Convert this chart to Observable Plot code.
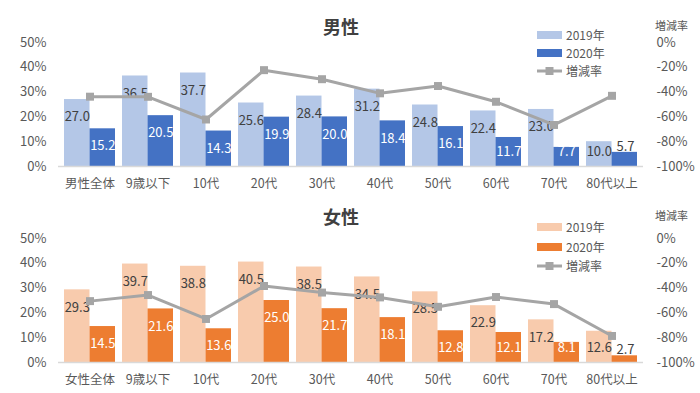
<!DOCTYPE html>
<html><head><meta charset="utf-8">
<script src="https://cdn.jsdelivr.net/npm/d3@7"></script>
<script src="https://cdn.jsdelivr.net/npm/@observablehq/plot@0.6"></script>
<style>
body{margin:0;background:#fff;font-family:"Noto Sans CJK JP","Noto Sans",sans-serif;}
#wrap{position:relative;width:700px;height:393px;overflow:hidden;background:#fff;}
.panel{position:absolute;left:0;width:700px;height:196px;}
.panel > svg{position:absolute;left:0;top:0;}
.title{position:absolute;left:341px;transform:translateX(-50%);font-weight:bold;font-size:18px;line-height:18px;color:#404040;white-space:nowrap;}
.rtitle{position:absolute;left:655px;font-size:11px;line-height:11px;color:#595959;white-space:nowrap;}
.leg{position:absolute;left:537px;height:16px;display:flex;align-items:center;font-size:12px;line-height:16px;color:#595959;white-space:nowrap;}
.leg span{display:block;height:16px;line-height:16px;}
.sw{width:25px;height:8px;margin-right:4px;flex:none;}
.lsw{display:block;flex:none;margin-right:4px;}
</style></head>
<body><div id="wrap"></div>
<script>
const maleCats = ["男性全体","9歳以下","10代","20代","30代","40代","50代","60代","70代","80代以上"];
const male2019 = [27.0,36.5,37.7,25.6,28.4,31.2,24.8,22.4,23.0,10.0];
const male2020 = [15.2,20.5,14.3,19.9,20.0,18.4,16.1,11.7,7.7,5.7];
const maleRate = [-43.7,-43.8,-62.1,-22.3,-29.6,-41.0,-35.1,-47.8,-66.5,-43.0];

const femaleCats = ["女性全体","9歳以下","10代","20代","30代","40代","50代","60代","70代","80代以上"];
const female2019 = [29.3,39.7,38.8,40.5,38.5,34.5,28.5,22.9,17.2,12.6];
const female2020 = [14.5,21.6,13.6,25.0,21.7,18.1,12.8,12.1,8.1,2.7];
const femaleRate = [-50.5,-45.6,-64.9,-38.3,-43.6,-47.5,-55.1,-47.2,-52.9,-78.6];

const leftTicks = [0,10,20,30,40,50];
const rightTickLabels = ["-100%","-80%","-60%","-40%","-20%","0%"];
const seriesNames = ["2019年","2020年","増減率"];

const FONT = '"Noto Sans CJK JP","Noto Sans",sans-serif';
const GRAY = "#A5A5A5";

function makePanel(title, cats, v19, v20, rate, c19, c20, top, legY, titleY, rtitleY) {
  const data = cats.map((c,i)=>({c, a:v19[i], b:v20[i], r:rate[i]}));
  const toY = r => (r + 100) / 2;
  const H = 196, mt = 42, mb = 30;
  const unit = 50 / (H - mt - mb); // data units per px
  const lab = v => Math.max(v - 17.5*unit, 15*unit);
  const above = v => v + 6*unit;
  const chart = Plot.plot({
    width:700, height:H, marginTop:mt, marginBottom:mb, marginLeft:58, marginRight:57,
    style:{fontFamily:FONT, fontSize:"13px", color:"#595959", background:"transparent", overflow:"visible"},
    x:{domain:cats, paddingInner:0.128, paddingOuter:0.064},
    y:{domain:[0,50]},
    marks:[
      Plot.barY(data,{x:"c", y:"a", fill:c19, insetRight:25.5}),
      Plot.barY(data,{x:"c", y:"b", fill:c20, insetLeft:25.5}),
      Plot.ruleY([0],{stroke:"#D9D9D9", strokeWidth:1.5}),
      Plot.axisX({tickSize:0, tickPadding:13, fontSize:12.5, label:null}),
      Plot.axisY({anchor:"left", ticks:leftTicks, tickSize:0, tickPadding:12, tickFormat:d=>d+"%", label:null}),
      Plot.axisY({anchor:"right", ticks:leftTicks, tickSize:0, tickPadding:13, tickFormat:d=>rightTickLabels[leftTicks.indexOf(d)], label:null}),
      Plot.text(data,{x:"c", y:d=>lab(d.a), text:d=>d.a.toFixed(1), dx:-12.75, fill:"#404040", fontSize:13}),
      Plot.text(data.filter(d=>d.b>=7),{x:"c", y:d=>lab(d.b), text:d=>d.b.toFixed(1), dx:12.75, fill:"white", fontSize:13}),
      Plot.text(data.filter(d=>d.b<7),{x:"c", y:d=>above(d.b), text:d=>d.b.toFixed(1), dx:13.5, fill:"#404040", fontSize:13}),
      Plot.line(data,{x:"c", y:d=>toY(d.r), stroke:GRAY, strokeWidth:3}),
      Plot.dot(data,{x:"c", y:d=>toY(d.r), symbol:"square", r:4.5, fill:GRAY, stroke:null})
    ]
  });
  const div = document.createElement("div");
  div.className = "panel";
  div.style.top = top + "px";
  div.appendChild(chart);
  const t = document.createElement("div");
  t.className = "title"; t.textContent = title; t.style.top = (titleY - 9) + "px";
  div.appendChild(t);
  const rt = document.createElement("div");
  rt.className = "rtitle"; rt.textContent = "増減率"; rt.style.top = (rtitleY - 6) + "px";
  div.appendChild(rt);
  const colors = [c19, c20, null];
  seriesNames.forEach((n,i)=>{
    const l = document.createElement("div");
    l.className = "leg"; l.style.top = (legY[i] - 8) + "px";
    if (colors[i]) {
      const s = document.createElement("div"); s.className = "sw"; s.style.background = colors[i];
      l.appendChild(s);
    } else {
      l.insertAdjacentHTML("beforeend",
        `<svg class="lsw" width="25" height="10"><line x1="0" x2="25" y1="5" y2="5" stroke="${GRAY}" stroke-width="3"/><rect x="8.5" y="1" width="8" height="8" fill="${GRAY}"/></svg>`);
    }
    const sp = document.createElement("span"); sp.textContent = n;
    l.appendChild(sp);
    div.appendChild(l);
  });
  document.getElementById("wrap").appendChild(div);
}

makePanel("男性", maleCats, male2019, male2020, maleRate, "#B4C7E7", "#4472C4", 0, [35,53,71], 26, 26);
makePanel("女性", femaleCats, female2019, female2020, femaleRate, "#F8CBAD", "#ED7D31", 196, [31,51,70], 20, 20);
</script></body></html>
